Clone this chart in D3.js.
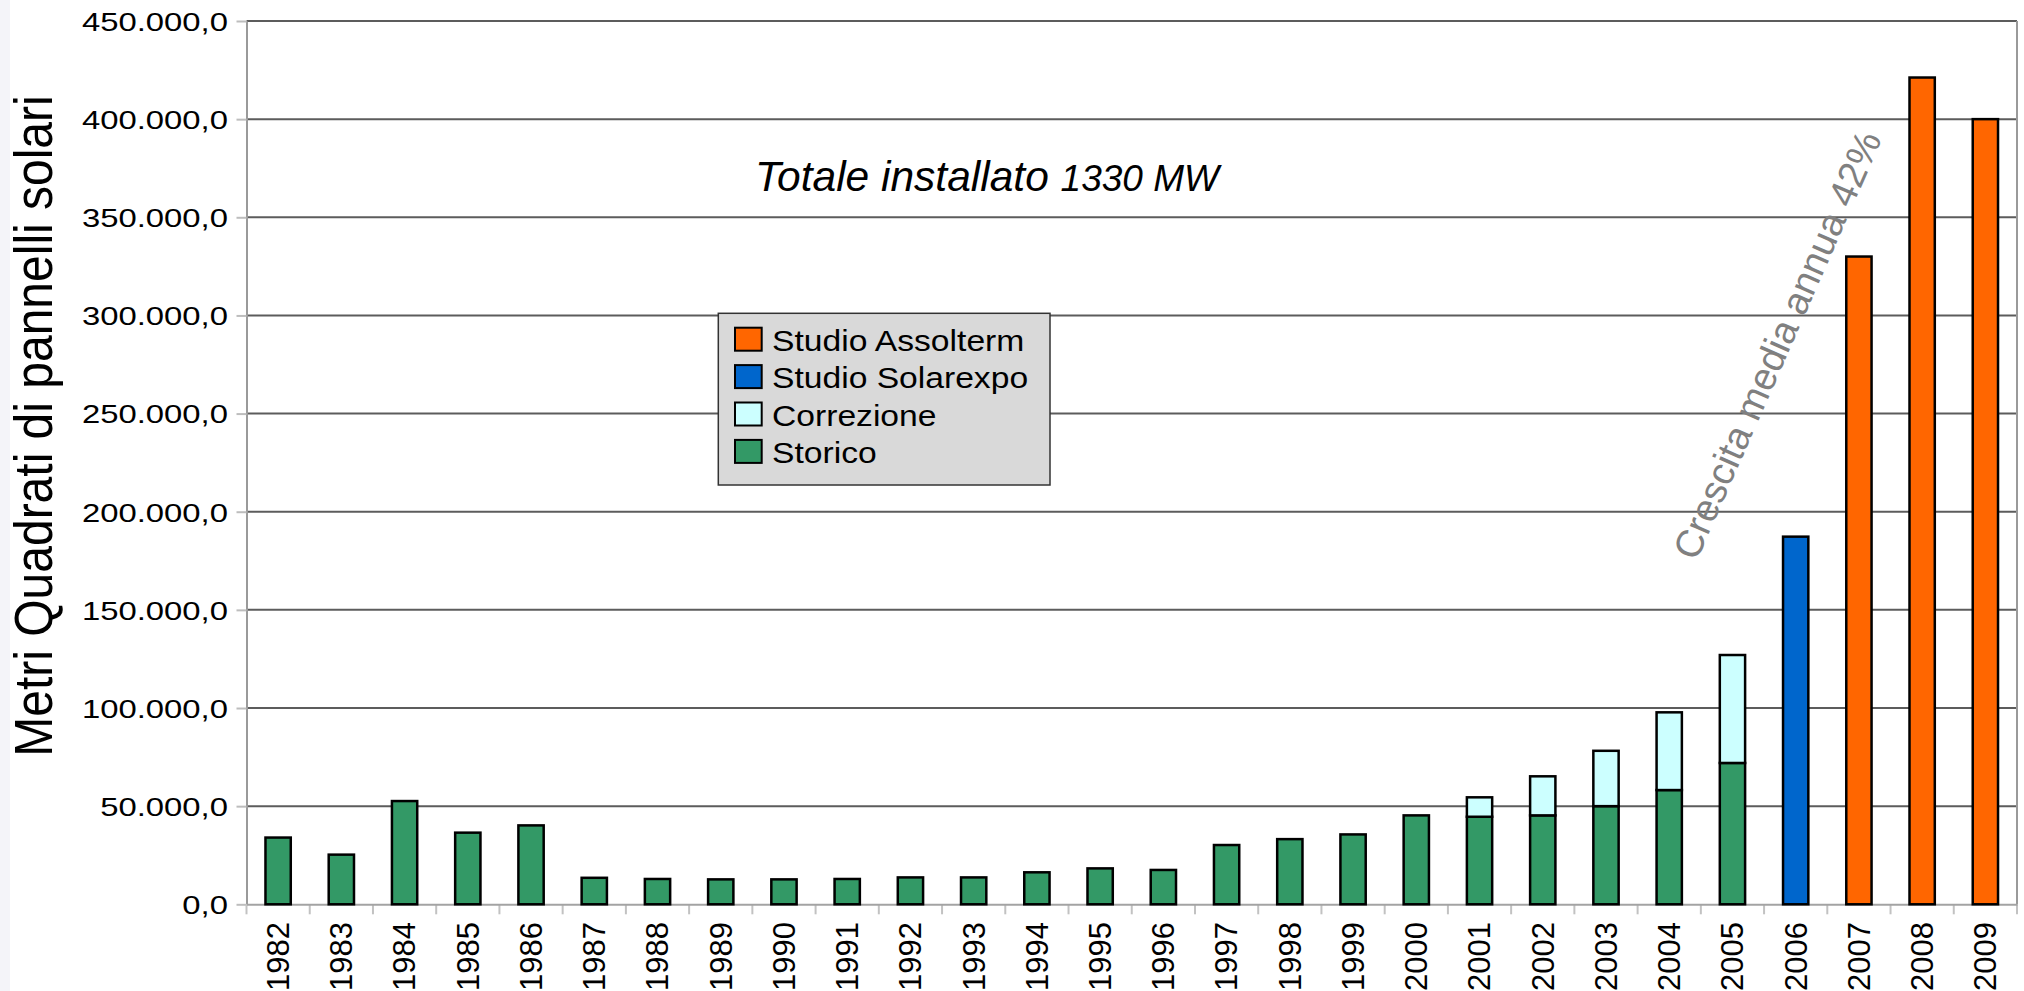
<!DOCTYPE html>
<html>
<head>
<meta charset="utf-8">
<script src="https://cdn.jsdelivr.net/npm/d3@7"></script>
<style>
body{margin:0;background:#fff;overflow:hidden}
text{font-family:"Liberation Sans",Arial,sans-serif}
</style>
</head>
<body>
<div id="grafico"></div>
<script>
// dati (metri quadrati)
var anni=["1982","1983","1984","1985","1986","1987","1988","1989","1990","1991","1992","1993","1994","1995",
	"1996","1997","1998","1999","2000","2001","2002","2003","2004","2005","2006","2007","2008","2009"]
var storico=[34000,25300,52600,36500,40200,13500,12900,12700,12700,12900,13700,13700,16300,18300,
	17500,30200,33200,35600,45300,44600,45300,50000,58200,72000,0,0,0,0]
var correzione=[0,0,0,0,0,0,0,0,0,0,0,0,0,0,
	0,0,0,0,0,9900,19900,28200,39600,55000,0,0,0,0]
var solarexpo=[0,0,0,0,0,0,0,0,0,0,0,0,0,0,
	0,0,0,0,0,0,0,0,0,0,187300,0,0,0]
var assolterm=[0,0,0,0,0,0,0,0,0,0,0,0,0,0,
	0,0,0,0,0,0,0,0,0,0,0,330000,421200,400000]
var serie=["Storico","Correzione","Studio Solarexpo","Studio Assolterm"]
var colori=["#339966","#ccffff","#0066cc","#ff6600"]
var tickY=[0,50000,100000,150000,200000,250000,300000,350000,400000,450000]

grafico()
function grafico(){
	var ancho=2024, alto=991
	var margin={top:21,bottom:86.7,left:246.5,right:7}

	var svg=d3.select("#grafico").append("svg")
		.attr("width",ancho)
		.attr("height",alto)

	// striscia grigia a sinistra
	svg.append("rect").attr("x",0).attr("y",0).attr("width",10).attr("height",alto).attr("fill","#f4f4f9")

	var escalaX=d3.scaleBand()
		.domain(anni)
		.range([margin.left,ancho-margin.right])
		.paddingInner(0.6)
		.paddingOuter(0.3)
	var escalaY=d3.scaleLinear()
		.domain([0,450000])
		.range([alto-margin.bottom,margin.top])

	var formato=d3.formatLocale({decimal:",",thousands:".",grouping:[3],currency:["","€"]}).format(",.1f")

	// griglia
	svg.append("g").selectAll("line")
		.data(tickY.filter(d=>d>0))
		.enter().append("line")
		.attr("x1",margin.left).attr("x2",ancho-margin.right)
		.attr("y1",d=>escalaY(d)).attr("y2",d=>escalaY(d))
		.attr("stroke","#5c5c5c").attr("stroke-width",2)

	// bordo destro
	svg.append("line")
		.attr("x1",ancho-margin.right).attr("x2",ancho-margin.right)
		.attr("y1",margin.top).attr("y2",escalaY(0))
		.attr("stroke","#9a9a9a").attr("stroke-width",2)

	// asse Y
	var ejeY=svg.append("g")
		.attr("transform","translate("+margin.left+",0)")
		.call(d3.axisLeft(escalaY).tickValues(tickY).tickFormat(formato).tickSizeInner(10).tickSizeOuter(0))
	ejeY.select(".domain").attr("stroke","#9a9a9a").attr("stroke-width",2)
	ejeY.selectAll(".tick line").attr("stroke","#bdbdbd").attr("stroke-width",2)
	ejeY.selectAll(".tick text")
		.attr("x",0)
		.attr("dy","0.35em")
		.attr("transform","translate(-18.5,0) scale(1.24,1)")
		.style("font-size","26.5px")
		.attr("fill","#000")

	// tacche tra le categorie
	var passo=escalaX.step()
	var bordi=d3.range(anni.length+1).map(i=>margin.left+i*passo)
	svg.append("g").selectAll("line")
		.data(bordi)
		.enter().append("line")
		.attr("x1",d=>d).attr("x2",d=>d)
		.attr("y1",escalaY(0)).attr("y2",escalaY(0)+10)
		.attr("stroke","#c2c2c2").attr("stroke-width",2)

	// asse X
	var ejeX=svg.append("g")
		.attr("transform","translate(0,"+escalaY(0)+")")
		.call(d3.axisBottom(escalaX).tickSize(0))
	ejeX.select(".domain").attr("stroke","#a3a3a3").attr("stroke-width",2)
	ejeX.selectAll(".tick text")
		.attr("x",0).attr("y",0)
		.attr("dy","0.35em")
		.attr("text-anchor","end")
		.attr("transform","translate(0,17.7) rotate(-90)")
		.style("font-size","31px")
		.attr("fill","#000")

	// barre impilate
	var righe=anni.map(function(a,i){
		return {anno:a,"Storico":storico[i],"Correzione":correzione[i],
			"Studio Solarexpo":solarexpo[i],"Studio Assolterm":assolterm[i]}
	})
	var pila=d3.stack().keys(serie)(righe)
	var colore=d3.scaleOrdinal().domain(serie).range(colori)
	svg.append("g").selectAll("g")
		.data(pila)
		.enter().append("g")
		.attr("fill",d=>colore(d.key))
		.selectAll("rect")
		.data(d=>d.filter(p=>p[1]>p[0]))
		.enter().append("rect")
		.attr("x",d=>escalaX(d.data.anno))
		.attr("width",escalaX.bandwidth())
		.attr("y",d=>escalaY(d[1]))
		.attr("height",d=>escalaY(d[0])-escalaY(d[1]))
		.attr("stroke","#000")
		.attr("stroke-width",2.5)

	// titolo etichetta asse Y
	svg.append("text")
		.attr("transform","translate(51.7,426) scale(1.1,1) rotate(-90)")
		.attr("text-anchor","middle")
		.style("font-size","48px")
		.text("Metri Quadrati di pannelli solari")

	// totale
	var tot=svg.append("text")
		.attr("x",755).attr("y",191)
		.style("font-style","italic")
		.style("font-size","42.5px")
	tot.append("tspan").text("Totale installato ")
	tot.append("tspan").style("font-size","37px").text("1330 MW")

	// crescita
	svg.append("text")
		.attr("transform","translate(1777,345) rotate(-66.3)")
		.attr("text-anchor","middle")
		.attr("dy","0.35em")
		.attr("fill","#808080")
		.style("font-size","38.5px")
		.text("Crescita media annua 42%")

	// legenda
	var leg=svg.append("g")
	leg.append("rect")
		.attr("x",718.3).attr("y",313.3)
		.attr("width",331.7).attr("height",171.7)
		.attr("fill","#d9d9d9").attr("stroke","#333").attr("stroke-width",1.5)
	var voci=serie.slice().reverse()
	var righeLeg=leg.selectAll("g.voce")
		.data(voci)
		.enter().append("g")
		.attr("class","voce")
		.attr("transform",(d,i)=>"translate(735,"+(327.7+i*37.4)+")")
	righeLeg.append("rect")
		.attr("width",26.7).attr("height",23)
		.attr("fill",d=>colore(d))
		.attr("stroke","#000").attr("stroke-width",2)
	righeLeg.append("text")
		.attr("transform","translate(37,23) scale(1.16,1)")
		.style("font-size","29px")
		.text(d=>d)
}
</script>
</body>
</html>
